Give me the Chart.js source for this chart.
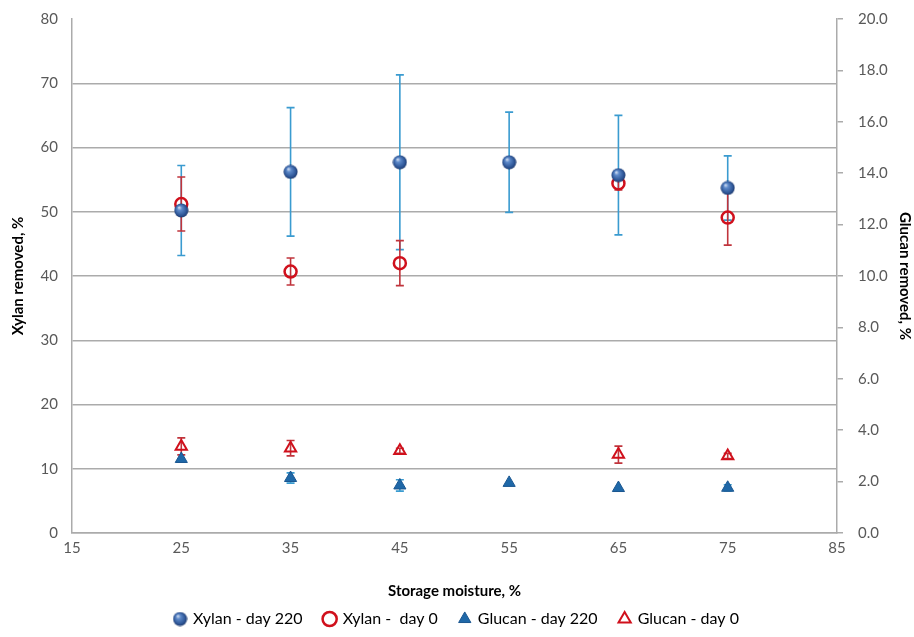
<!DOCTYPE html>
<html>
<head>
<meta charset="utf-8">
<script src="https://cdn.jsdelivr.net/npm/chart.js@4"></script>
<style>
  html, body { margin: 0; padding: 0; background: #fff; }
  #wrap { width: 914px; height: 637px; }
</style>
</head>
<body>
<div id="wrap"><canvas id="chart" width="914" height="637"></canvas></div>
<script>
const moisture = [25, 35, 45, 55, 65, 75];

const xylan220 = [50.2, 56.2, 57.7, 57.7, 55.7, 53.7];
const xylan220Err = [7.0, 10.0, 13.6, 7.8, 9.3, 5.0];
const xylan0 = [51.2, 40.7, 42.0, null, 54.4, 49.1];
const xylan0Err = [4.2, 2.1, 3.5, null, 1.0, 4.3];

const glucan220 = [2.88, 2.14, 1.85, 1.95, 1.75, 1.76];
const glucan220Err = [0, 0.2, 0.22, 0, 0, 0.12];
const glucan0 = [3.37, 3.3, 3.2, null, 3.05, 3.0];
const glucan0Err = [0.33, 0.3, 0.1, null, 0.33, 0.1];

const xTicks = [15, 25, 35, 45, 55, 65, 75, 85];

const font = 'Lato, "Open Sans", sans-serif';
const gridGray = '#ABABAB';
const tickGray = '#595959';

function toPoints(values) {
  const pts = [];
  values.forEach((v, i) => {
    if (v !== null) pts.push({ x: moisture[i], y: v });
  });
  return pts;
}

function toErrors(values, errs) {
  return errs.filter((e, i) => values[i] !== null);
}

// shaded blue ball marker like the Excel one
function makeSphere(size) {
  const c = document.createElement('canvas');
  c.width = size;
  c.height = size;
  const g = c.getContext('2d');
  const r = size / 2;
  const grad = g.createRadialGradient(r * 0.7, r * 0.6, 0.5, r, r, r);
  grad.addColorStop(0, '#C9D8EE');
  grad.addColorStop(0.25, '#5F8BCB');
  grad.addColorStop(0.75, '#2D5596');
  grad.addColorStop(1, '#1A3263');
  g.fillStyle = grad;
  g.beginPath();
  g.arc(r, r, r - 0.5, 0, Math.PI * 2);
  g.fill();
  return c;
}
const sphere = makeSphere(15);

const errorBars = {
  id: 'errorBars',
  beforeDatasetsDraw(chart) {
    const ctx = chart.ctx;
    chart.data.datasets.forEach((ds, di) => {
      if (!ds.errors) return;
      const meta = chart.getDatasetMeta(di);
      const yScale = chart.scales[meta.yAxisID];
      ctx.save();
      ctx.strokeStyle = ds.errorColor;
      ctx.lineWidth = 1.6;
      meta.data.forEach((pt, i) => {
        const e = ds.errors[i];
        if (!e) return;
        const v = ds.data[i].y;
        const x = pt.x;
        const yTop = yScale.getPixelForValue(v + e);
        const yBot = yScale.getPixelForValue(v - e);
        ctx.beginPath();
        ctx.moveTo(x, yTop);
        ctx.lineTo(x, yBot);
        ctx.moveTo(x - 4, yTop);
        ctx.lineTo(x + 4, yTop);
        ctx.moveTo(x - 4, yBot);
        ctx.lineTo(x + 4, yBot);
        ctx.stroke();
      });
      ctx.restore();
    });
  }
};

new Chart(document.getElementById('chart'), {
  type: 'scatter',
  data: {
    datasets: [
      {
        label: 'Xylan - day 220',
        data: toPoints(xylan220),
        errors: toErrors(xylan220, xylan220Err),
        errorColor: '#3A9BD0',
        yAxisID: 'y',
        pointStyle: sphere,
        pointRadius: 7,
        backgroundColor: '#2D5596',
        borderColor: '#2D5596'
      },
      {
        label: 'Xylan -  day 0',
        data: toPoints(xylan0),
        errors: toErrors(xylan0, xylan0Err),
        errorColor: '#C0343C',
        yAxisID: 'y',
        pointStyle: 'circle',
        pointRadius: 6,
        borderWidth: 2.5,
        backgroundColor: 'rgba(0,0,0,0)',
        borderColor: '#D0101C'
      },
      {
        label: 'Glucan - day 220',
        data: toPoints(glucan220),
        errors: toErrors(glucan220, glucan220Err),
        errorColor: '#3A9BD0',
        yAxisID: 'y1',
        pointStyle: 'triangle',
        pointRadius: 7,
        borderWidth: 1,
        backgroundColor: '#1F68A8',
        borderColor: '#1A5690'
      },
      {
        label: 'Glucan - day 0',
        data: toPoints(glucan0),
        errors: toErrors(glucan0, glucan0Err),
        errorColor: '#C0343C',
        yAxisID: 'y1',
        pointStyle: 'triangle',
        pointRadius: 6.5,
        borderWidth: 2,
        backgroundColor: 'rgba(0,0,0,0)',
        borderColor: '#D0101C'
      }
    ]
  },
  options: {
    responsive: false,
    animation: false,
    layout: { padding: { top: 19, left: 0, right: 0, bottom: 0 } },
    plugins: {
      tooltip: { enabled: false },
      legend: {
        position: 'bottom',
        labels: {
          usePointStyle: true,
          boxWidth: 10,
          boxHeight: 10,
          padding: 22,
          color: '#000',
          font: { family: font, size: 16 }
        }
      }
    },
    scales: {
      x: {
        type: 'linear',
        min: 15,
        max: 85,
        afterBuildTicks(scale) { scale.ticks = xTicks.map(v => ({ value: v })); },
        afterFit(scale) { scale.height = 56; },
        grid: { drawOnChartArea: false, drawTicks: false },
        border: { color: gridGray, width: 1.5 },
        ticks: { color: tickGray, padding: 6, font: { family: font, size: 15 } },
        title: {
          display: true,
          text: 'Storage moisture, %',
          color: '#000',
          padding: { top: 0, bottom: -11 },
          font: { family: font, size: 15, weight: 'bold' }
        }
      },
      y: {
        position: 'left',
        min: 0,
        max: 80,
        afterFit(scale) {
          scale.width = 72;
          scale.paddingTop = 0;
          scale.paddingBottom = 0;
        },
        grid: {
          drawTicks: false,
          lineWidth: 1.5,
          color: ctx => (ctx.tick && ctx.tick.value === 80 ? 'rgba(0,0,0,0)' : gridGray)
        },
        border: { color: gridGray, width: 1.5 },
        ticks: { stepSize: 10, color: tickGray, padding: 14, font: { family: font, size: 15 } },
        title: {
          display: true,
          text: 'Xylan removed, %',
          color: '#000',
          padding: { top: 9, bottom: 0 },
          font: { family: font, size: 15, weight: 'bold' }
        }
      },
      y1: {
        position: 'right',
        min: 0,
        max: 20,
        afterFit(scale) {
          scale.width = 77;
          scale.paddingTop = 0;
          scale.paddingBottom = 0;
        },
        grid: { drawOnChartArea: false, drawTicks: true, tickLength: 6, color: gridGray, lineWidth: 1.5 },
        border: { color: gridGray, width: 1.5 },
        ticks: {
          stepSize: 2,
          color: tickGray,
          padding: 15,
          font: { family: font, size: 15 },
          callback: v => v.toFixed(1)
        },
        title: {
          display: true,
          text: 'Glucan removed, %',
          color: '#000',
          padding: { top: 0, bottom: 0 },
          font: { family: font, size: 15, weight: 'bold' }
        }
      }
    }
  },
  plugins: [errorBars]
});
</script>
</body>
</html>
